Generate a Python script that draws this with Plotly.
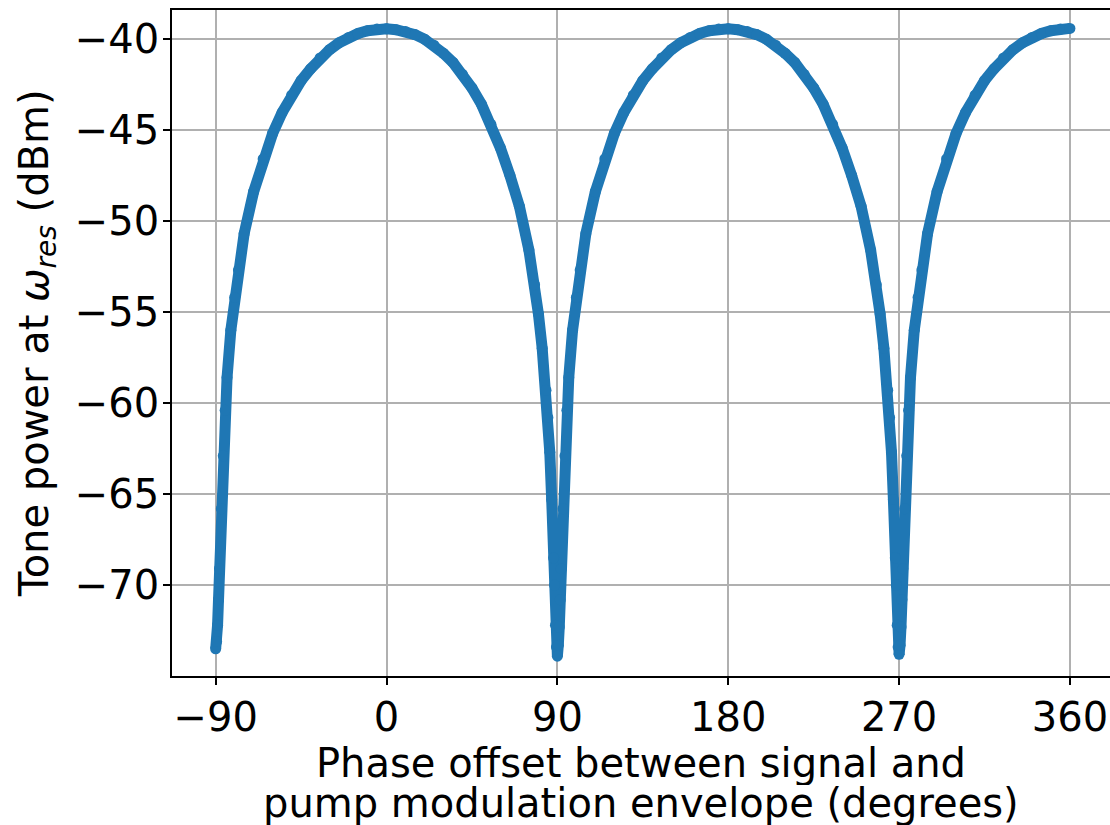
import plotly.graph_objects as go

# ---- data (degrees, dBm) ----
seg1_phase = [-90, -89.5, -89, -88.5, -88, -87, -86, -85, -84, -82, -80, -78, -75, -70, -65,
              -60, -55, -50, -45, -40, -35, -30, -25, -20, -15, -10, -5, 0]
seg1_power = [-73.5, -73.1, -72.2, -70.8, -69.1, -65.8, -62.9, -60.4, -58.6, -56.0, -54.2, -52.7,
              -50.7, -48.4, -46.6, -45.2, -44.05, -43.1, -42.3, -41.65, -41.05, -40.6, -40.22,
              -39.93, -39.71, -39.56, -39.47, -39.45]

seg2_phase = [5, 10, 15, 20, 25, 30, 35, 40, 45, 50, 55, 60, 65, 70, 75, 78, 80, 82, 84, 85,
              86, 87, 88, 88.5, 89, 89.5, 90]
seg2_power = [-39.5, -39.6, -39.77, -40.02, -40.35, -40.8, -41.3, -41.95, -42.7, -43.6, -44.7,
              -46.0, -47.5, -49.2, -51.6, -53.5, -55.1, -57.0, -59.3, -60.8, -62.7, -65.3,
              -68.5, -70.0, -72.2, -73.4, -73.9]

seg3_phase = [90.5, 91, 91.5, 92, 93, 94, 95, 96, 98, 100, 102, 105, 110, 115, 120, 125, 130,
              135, 140, 145, 150, 155, 160, 165, 170, 175, 180]
seg3_power = [-73.3, -72.3, -70.8, -69.1, -65.8, -62.9, -60.4, -58.6, -56.0, -54.2, -52.7,
              -50.7, -48.4, -46.6, -45.2, -44.05, -43.1, -42.3, -41.65, -41.05, -40.6, -40.22,
              -39.93, -39.71, -39.56, -39.47, -39.45]

seg4_phase = [185, 190, 195, 200, 205, 210, 215, 220, 225, 230, 235, 240, 245, 250, 255, 258,
              260, 262, 264, 265, 266, 267, 268, 268.5, 269, 269.5, 270]
seg4_power = [-39.5, -39.6, -39.77, -40.02, -40.35, -40.8, -41.3, -41.95, -42.7, -43.6, -44.7,
              -46.0, -47.5, -49.2, -51.6, -53.5, -55.1, -57.0, -59.3, -60.8, -62.7, -65.3,
              -68.5, -70.0, -72.2, -73.4, -73.8]

seg5_phase = [270.5, 271, 271.5, 272, 273, 274, 275, 276, 278, 280, 282, 285, 290, 295, 300,
              305, 310, 315, 320, 325, 330, 335, 340, 345, 350, 355, 360]
seg5_power = [-73.3, -72.3, -70.8, -69.1, -65.8, -62.9, -60.4, -58.6, -56.0, -54.2, -52.7,
              -50.7, -48.4, -46.6, -45.2, -44.05, -43.1, -42.3, -41.65, -41.05, -40.6, -40.22,
              -39.93, -39.71, -39.56, -39.47, -39.43]

x_tick_vals = [-90, 0, 90, 180, 270, 360]
x_tick_text = ["\u221290", "0", "90", "180", "270", "360"]
y_tick_vals = [-70, -65, -60, -55, -50, -45, -40]
y_tick_text = ["\u221270", "\u221265", "\u221260", "\u221255", "\u221250", "\u221245", "\u221240"]

phase = seg1_phase + seg2_phase + seg3_phase + seg4_phase + seg5_phase
power = seg1_power + seg2_power + seg3_power + seg4_power + seg5_power

BLUE = "#1f77b4"
FONT = "DejaVu Sans"

fig = go.Figure()
fig.add_trace(go.Scatter(
    x=phase, y=power, mode="lines+markers",
    line=dict(color=BLUE, width=11),
    marker=dict(color=BLUE, size=11, line=dict(width=0)),
    showlegend=False, hoverinfo="skip",
))

axis_common = dict(
    showline=True, linecolor="black", linewidth=1.6,
    showgrid=True, gridcolor="#b0b0b0", gridwidth=1.6,
    zeroline=False, ticks="outside", ticklen=7, tickwidth=1.6, tickcolor="black",
    tickfont=dict(family=FONT, size=40, color="black"),
)

fig.update_layout(
    width=1110, height=825,
    margin=dict(l=172, r=0, t=10, b=149),
    paper_bgcolor="white", plot_bgcolor="white",
    font=dict(family=FONT, size=40, color="black"),
    xaxis=dict(range=[-113.0, 381.1], tickvals=x_tick_vals, ticktext=x_tick_text,
               mirror=True, ticklabelstandoff=-2, **axis_common),
    yaxis=dict(range=[-74.99, -38.42], tickvals=y_tick_vals, ticktext=y_tick_text,
               mirror=False, ticklabelstandoff=-4, **axis_common),
    annotations=[
        dict(text="Phase offset between signal and", xref="paper", yref="paper",
             x=0.5, y=0, xanchor="center", yanchor="middle", yshift=-87, showarrow=False,
             height=44, valign="middle",
             font=dict(family=FONT, size=40, color="black")),
        dict(text="pump modulation envelope (degrees)", xref="paper", yref="paper",
             x=0.5, y=0, xanchor="center", yanchor="middle", yshift=-127, showarrow=False,
             height=44, valign="middle",
             font=dict(family=FONT, size=40, color="black")),
        dict(text="Tone power at <i>\u03c9</i><sub><i>res</i></sub> (dBm)", xref="paper", yref="paper",
             x=0, y=0.5, xanchor="center", yanchor="middle", xshift=-135, textangle=-90,
             showarrow=False, font=dict(family=FONT, size=40, color="black")),
    ],
)

fig.write_html("out.html")
